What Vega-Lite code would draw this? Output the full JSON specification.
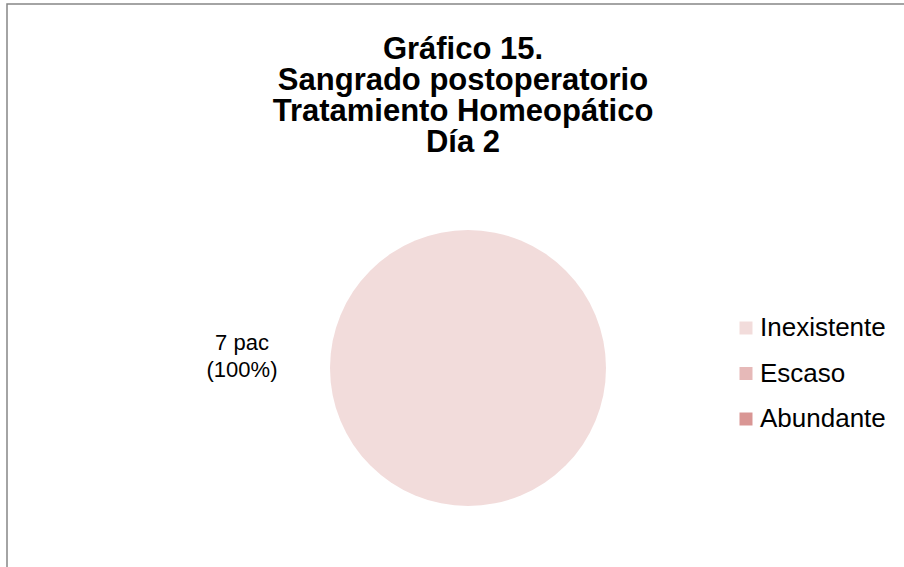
{
  "$schema": "https://vega.github.io/schema/vega-lite/v6.json",
  "width": 900,
  "height": 566,
  "autosize": "none",
  "padding": {"left": 7, "top": 4, "right": -3, "bottom": -3},
  "background": "white",
  "view": {"stroke": "#868686", "strokeWidth": 1.5, "fill": "white"},
  "config": {
    "font": "Liberation Sans"
  },
  "title": {
    "text": ["Gráfico 15.", "Sangrado postoperatorio", "Tratamiento Homeopático", "Día 2"],
    "anchor": "middle",
    "frame": "group",
    "orient": "top",
    "offset": -155,
    "dx": 6,
    "fontSize": 31,
    "fontWeight": "bold",
    "lineHeight": 31,
    "color": "#000000",
    "font": "Liberation Sans"
  },
  "data": {
    "values": [
      {"categoria": "Inexistente", "pacientes": 7, "etiqueta": "7 pac\n(100%)"},
      {"categoria": "Escaso", "pacientes": 0, "etiqueta": ""},
      {"categoria": "Abundante", "pacientes": 0, "etiqueta": ""}
    ]
  },
  "layer": [
    {
      "mark": {"type": "arc", "outerRadius": 138, "xOffset": 11, "yOffset": 81},
      "encoding": {
        "theta": {"field": "pacientes", "type": "quantitative", "stack": true},
        "color": {
          "field": "categoria",
          "type": "nominal",
          "sort": ["Inexistente", "Escaso", "Abundante"],
          "scale": {"domain": ["Inexistente", "Escaso", "Abundante"], "range": ["#F2DCDB", "#E6B9B8", "#D99694"]},
          "legend": {
            "title": null,
            "orient": "none",
            "legendX": 726,
            "legendY": 311,
            "symbolType": "square",
            "symbolSize": 169,
            "symbolStrokeWidth": 0,
            "labelFontSize": 26,
            "labelFont": "Liberation Sans",
            "labelColor": "#000000",
            "labelOffset": 1,
            "rowPadding": 19.5,
            "labelLimit": 300
          }
        },
        "order": {"field": "pacientes", "sort": "descending"}
      }
    },
    {
      "transform": [{"filter": "datum.pacientes > 0"}],
      "mark": {
        "type": "text",
        "theta": 4.712389,
        "radius": 226,
        "xOffset": 11,
        "yOffset": 56,
        "fontSize": 22,
        "lineBreak": "\n",
        "lineHeight": 27,
        "align": "center",
        "baseline": "middle",
        "color": "#000000",
        "font": "Liberation Sans"
      },
      "encoding": {
        "text": {"field": "etiqueta", "type": "nominal"}
      }
    }
  ]
}
